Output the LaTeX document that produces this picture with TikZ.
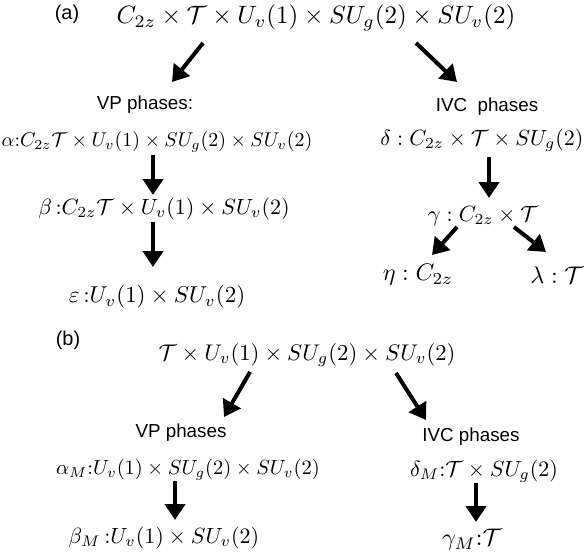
\documentclass[tikz,border=0pt]{standalone}
\usepackage{amsmath,amssymb}
\usepackage{fontspec}
\newfontfamily\labelfont{Liberation Sans}
\usetikzlibrary{arrows.meta}

\tikzset{
  grp/.style={inner sep=0pt, scale=1.1},
  phase/.style={inner sep=0pt, font=\labelfont, scale=0.94},
  fatarrow/.style={line width=2pt, -{Triangle[width=10pt,length=8pt]}}
}

\begin{document}
\begin{tikzpicture}[x=0.5pt, y=-0.5pt]
        \useasboundingbox (0,0) rectangle (584,559);
        % (a)
        \node[phase, scale=1.06] (laba) at (67,14) {(a)};
        \node[grp, scale=1.14] (topa) at (316,18)
            {$C_{2z}\times\mathcal{T}\times U_v(1)\times SU_g(2)\times SU_v(2)$};
        \node[phase] (vpa) at (145,105) {VP phases:};
        \node[phase] (ivca) at (487,107) {IVC\ \ phases};
        \node[grp, scale=0.905] (alpha) at (157,142)
            {$\alpha{:}C_{2z}\mathcal{T}\times U_v(1)\times SU_g(2)\times SU_v(2)$};
        \node[grp] (beta) at (164,209)
            {$\beta\,{:}C_{2z}\mathcal{T}\times U_v(1)\times SU_v(2)$};
        \node[grp, scale=1.045] (eps) at (157,297)
            {$\varepsilon\,{:}U_v(1)\times SU_v(2)$};
        \node[grp, scale=1.0] (delta) at (482,140)
            {$\delta : C_{2z}\times\mathcal{T}\times SU_g(2)$};
        \node[grp] (gamma) at (483,216) {$\gamma : C_{2z}\times\mathcal{T}$};
        \node[grp, scale=1.09] (eta) at (418,275) {$\eta : C_{2z}$};
        \node[grp, scale=1.09] (lambda) at (557,275) {$\lambda : \mathcal{T}$};

        \draw[fatarrow] ([shift={(-113,25)}]topa.center) -- ([shift={(27,-23)}]vpa.center);
        \draw[fatarrow] ([shift={(100,25)}]topa.center) -- ([shift={(-30,-25)}]ivca.center);
        \draw[fatarrow] ([shift={(-4,13)}]alpha.center) -- ([shift={(-11,-14)}]beta.center);
        \draw[fatarrow] ([shift={(-11,13)}]beta.center) -- ([shift={(-4,-30)}]eps.center);
        \draw[fatarrow] ([shift={(7,17)}]delta.center) -- ([shift={(6,-18)}]gamma.center);
        \draw[fatarrow] ([shift={(-26,11)}]gamma.center) -- ([shift={(14,-20)}]eta.center);
        \draw[fatarrow] ([shift={(31,11)}]gamma.center) -- ([shift={(-11,-23)}]lambda.center);

        % (b)
        \node[phase, scale=1.06] (labb) at (68,340) {(b)};
        \node[grp, scale=1.03] (topb) at (307,355)
            {$\mathcal{T}\times U_v(1)\times SU_g(2)\times SU_v(2)$};
        \node[phase] (vpb) at (181,433) {VP phases};
        \node[phase] (ivcb) at (471,437) {IVC phases};
        \node[grp, scale=0.93] (alphaM) at (188,470)
            {$\alpha_M{:}U_v(1)\times SU_g(2)\times SU_v(2)$};
        \node[grp] (betaM) at (164,538) {$\beta_M\,{:}U_v(1)\times SU_v(2)$};
        \node[grp] (deltaM) at (484,471) {$\delta_M{:}\mathcal{T}\times SU_g(2)$};
        \node[grp, scale=1.09] (gammaM) at (472,540) {$\gamma_M{:}\mathcal{T}$};

        \draw[fatarrow] ([shift={(-57,17)}]topb.center) -- ([shift={(43,-16)}]vpb.center);
        \draw[fatarrow] ([shift={(89,18)}]topb.center) -- ([shift={(-45,-17)}]ivcb.center);
        \draw[fatarrow] ([shift={(-13,11)}]alphaM.center) -- ([shift={(11,-18)}]betaM.center);
        \draw[fatarrow] ([shift={(-8,12)}]deltaM.center) -- ([shift={(4,-18)}]gammaM.center);
\end{tikzpicture}
\end{document}
